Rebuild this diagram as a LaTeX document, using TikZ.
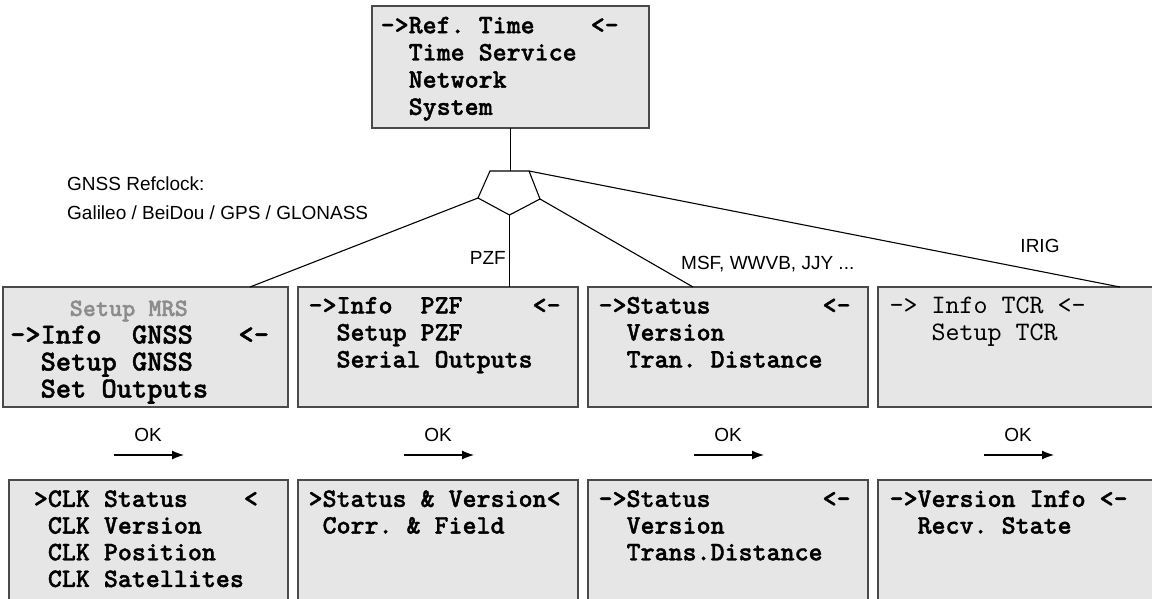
\documentclass[tikz,border=0pt]{standalone}
\usepackage{fontspec}
\setmainfont{Liberation Sans}
\newfontfamily\monob{lmmonolt10-bold.otf}[FakeBold=1.4]
\newfontfamily\monor{lmmono10-regular.otf}
\usetikzlibrary{arrows.meta}
\definecolor{boxfill}{HTML}{E6E6E6}
\definecolor{boxline}{HTML}{4A4A4A}
\definecolor{mrsgray}{HTML}{8C8C8C}
\frenchspacing
\begin{document}
\begin{tikzpicture}[x=1pt,y=-1pt,
  box/.style={draw=boxline, line width=1.3pt, fill=boxfill, anchor=north west, inner sep=0pt, outer sep=0pt},
  mtxt/.style={font=\monob\fontsize{26.67}{27}\selectfont, align=left, inner sep=0pt, anchor=north west},
  mreg/.style={font=\monor\fontsize{26.67}{27}\selectfont, align=left, inner sep=0pt, anchor=north west},
  lbl/.style={font=\fontsize{19}{22}\selectfont, inner sep=0pt},
  conn/.style={line width=1.1pt, black},
  okarrow/.style={line width=1.2pt, -{Latex[length=12pt,width=9pt]}}
]
\useasboundingbox (0,0) rectangle (1152,599);
\clip (0,0) rectangle (1152,599);

% boxes
\node[box, minimum width=277pt, minimum height=122pt] (top) at (372,6) {};
\node[box, minimum width=285pt, minimum height=120pt] (gnss) at (3,287) {};
\node[box, minimum width=280pt, minimum height=120pt] (pzf) at (298,287) {};
\node[box, minimum width=280pt, minimum height=120pt] (msf) at (588,287) {};
\node[box, minimum width=290pt, minimum height=120pt] (tcr) at (878,287) {};
\node[box, minimum width=279pt, minimum height=140pt] (clk) at (9,480) {};
\node[box, minimum width=280pt, minimum height=140pt] (pzfb) at (298,480) {};
\node[box, minimum width=280pt, minimum height=140pt] (msfb) at (588,480) {};
\node[box, minimum width=290pt, minimum height=140pt] (tcrb) at (878,480) {};

% texts
\node[mtxt, font=\monob\fontsize{26.67}{27.2}\selectfont] (ttop) at (380.5,14) {\strut->Ref.~Time~~~~<-\\\hspace*{1.05em}Time~Service\\\hspace*{1.05em}Network\\\hspace*{1.05em}System};

\node[mtxt, anchor=base west, font=\monob\fontsize{25}{26}\selectfont, text=mrsgray] (tmrs) at (69.5,316) {Setup~MRS};
\node[mtxt, font=\monob\fontsize{29}{27}\selectfont] (tgnss) at (10,324.4) {\strut->Info~~GNSS~~~<-\\\hspace*{1.05em}Setup~GNSS\\\hspace*{1.05em}Set~Outputs};
\node[mtxt] (tpzf) at (308.4,294.4) {\strut->Info~~PZF~~~~~<-\\\hspace*{1.05em}Setup~PZF\\\hspace*{1.05em}Serial~Outputs};
\node[mtxt] (tmsf) at (598.4,294.4) {\strut->Status~~~~~~~~<-\\\hspace*{1.05em}Version\\\hspace*{1.05em}Tran.~Distance};
\node[mreg] (ttcr) at (889.4,294.4) {\strut->~Info~TCR~<-\\\hspace*{1.575em}Setup~TCR};

\node[mtxt, font=\monob\fontsize{26.67}{26.7}\selectfont] (tclk) at (33.7,488) {\strut>CLK~Status~~~~<\\\hspace*{0.525em}CLK~Version\\\hspace*{0.525em}CLK~Position\\\hspace*{0.525em}CLK~Satellites};
\node[mtxt, font=\monob\fontsize{26.67}{26.7}\selectfont] (tpzfb) at (308.4,488) {\strut>Status~\&~Version<\\\hspace*{0.525em}Corr.~\&~Field};
\node[mtxt, font=\monob\fontsize{26.67}{26.7}\selectfont] (tmsfb) at (598.4,488) {\strut->Status~~~~~~~~<-\\\hspace*{1.05em}Version\\\hspace*{1.05em}Trans.Distance};
\node[mtxt, font=\monob\fontsize{26.67}{26.7}\selectfont] (ttcrb) at (889.4,488) {\strut->Version~Info~<-\\\hspace*{1.05em}Recv.~State};

% splitter
\coordinate (pTL) at (490,171);
\coordinate (pTR) at (529,171);
\coordinate (pR) at (540,199);
\coordinate (pB) at (509.5,215);
\coordinate (pL) at (478,198);
\draw[conn, line join=miter] (pTL) -- (pTR) -- (pR) -- (pB) -- (pL) -- cycle;
\draw[conn] (top.south) -- (top.south |- pTL);

\coordinate (eG) at (250,287);
\coordinate (eP) at (509.5,287);
\coordinate (eM) at (693,287);
\coordinate (eT) at (1120,287);
\draw[conn] (pL) -- (eG);
\draw[conn] (pB) -- (eP);
\draw[conn] (pR) -- (eM);
\draw[conn] (pTR) -- (eT);

% labels
\node[lbl, anchor=base west] (lg1) at (67,190) {GNSS Refclock:};
\node[lbl, anchor=base west] (lg2) at (67,219) {Galileo / BeiDou / GPS / GLONASS};
\node[lbl, anchor=base east] (lpzf) at (506,264) {PZF};
\node[lbl, anchor=base west] (lmsf) at (681,269) {MSF, WWVB, JJY ...};
\node[lbl, anchor=base] (lirig) at (1040,252) {IRIG};

% OK arrows
\foreach \i/\x in {1/114,2/404,3/694,4/984}{
  \coordinate (o\i s) at (\x,455);
  \coordinate (o\i e) at (\x+70,455);
  \draw[okarrow] (o\i s) -- (o\i e);
  \node[lbl, anchor=base] (ok\i) at (\x+34,441.7) {OK};
}
\end{tikzpicture}
\end{document}
